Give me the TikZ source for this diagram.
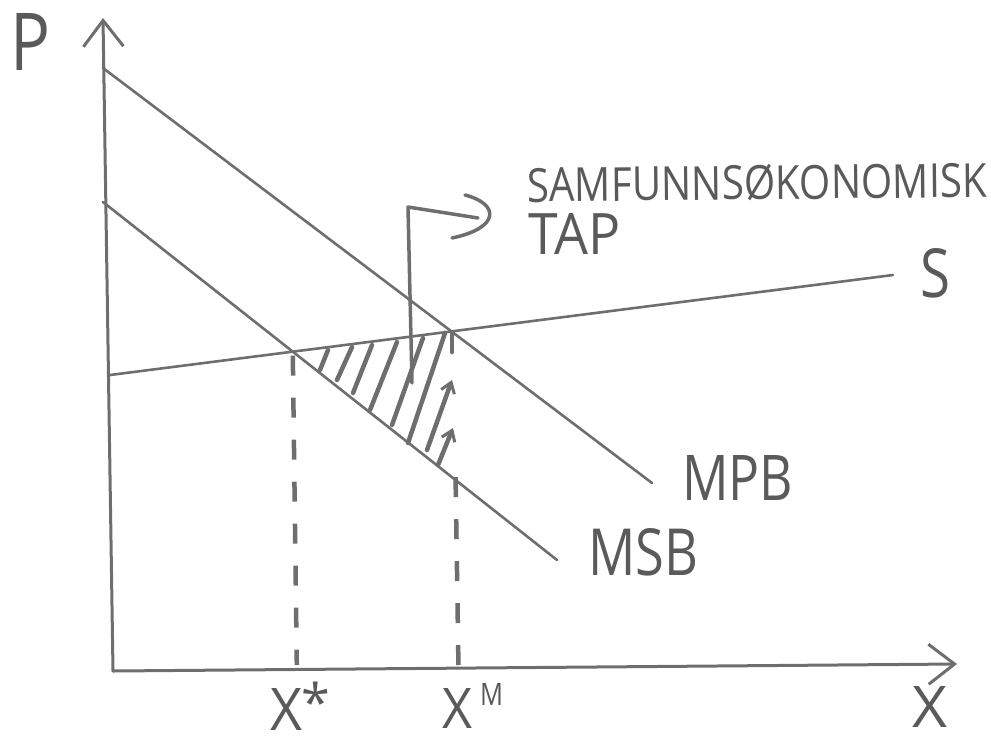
\documentclass[tikz,border=0pt]{standalone}
\usepackage{fontspec}
\setmainfont{Open Sans}
\usepackage{graphicx}
\usetikzlibrary{arrows.meta,calc}
\definecolor{pencil}{HTML}{6E6E6E}
\definecolor{ink}{HTML}{5A5A5A}
\newcommand\fitlbl[3]{\resizebox{#1pt}{#2pt}{#3}}
\begin{document}
\begin{tikzpicture}[x=1pt,y=-1pt,
  curve/.style={draw=pencil,line width=2.6pt,line cap=round},
  axis/.style={draw=pencil,line width=3pt,line cap=round,-{Straight Barb[length=26pt,width=40pt,line width=3pt]}},
  guide/.style={draw=pencil,line width=4.5pt,dash pattern=on 20pt off 22pt},
  hatch/.style={draw=pencil,line width=4.5pt,line cap=round},
  hatcharrow/.style={hatch,-{Straight Barb[length=10pt,width=14pt,line width=3pt]}},
  pointer/.style={draw=pencil,line width=3.5pt,line cap=round,line join=round},
  lbl/.style={inner sep=0pt,text=ink,anchor=base west}]
\useasboundingbox (0,0) rectangle (991,740);
% axes
\coordinate (O) at (113,671);
\coordinate (Ytip) at (103,18);
\coordinate (Xtip) at (957,664);
\draw[axis] (O) -- (Ytip);
\draw[axis] (O) -- (Xtip);
% curves
\coordinate (mpbA) at (103,68);  \coordinate (mpbB) at (652,483);
\coordinate (msbA) at (103,202); \coordinate (msbB) at (557,560);
\coordinate (sA) at (110,375);   \coordinate (sB) at (893,275);
\draw[curve] (mpbA) -- (mpbB);
\draw[curve] (msbA) -- (msbB);
\draw[curve] (sA) -- (sB);
% equilibria
\coordinate (E1) at (intersection of msbA--msbB and sA--sB);
\coordinate (E2) at (intersection of mpbA--mpbB and sA--sB);
\coordinate (E1b) at ($(E1 |- O)+(4,-6)$);
\coordinate (E2b) at ($(E2 |- O)+(7,-6)$);
\coordinate (F) at (intersection of msbA--msbB and E2--E2b);
\draw[guide] ($(E1)+(0,4)$) -- (E1b);
\draw[guide] ($(F)+(1,-2)$) -- (E2b);
% hatching
\draw[hatch] (320,370) -- (328,350);
\draw[hatch] (337,380) -- (352,347);
\draw[hatch] (353,393) -- (372,345);
\draw[hatch] (370,410) -- (397,342);
\draw[hatch] (392,425) -- (423,338);
\draw[hatch] (408,443) -- (445,333);
\draw[hatch] (452,334) -- (452,352);
\draw[hatcharrow] (427,450) -- (452,380);
\draw[hatcharrow] (438,465) -- (453,428);
% pointer
\coordinate (p1) at (412,383);
\coordinate (p2) at (408,207);
\coordinate (p3) at (478,218);
\draw[pointer] (p1) -- (p2) -- (p3);
\draw[pointer] (465,195) .. controls (500,204) and (500,228) .. (452,238);
% labels
\node[lbl] (P) at (10,70) {\fitlbl{40}{57}{P}};
\node[lbl] (xl) at (912,727) {\fitlbl{35}{41}{X}};
\node[lbl] (xs) at (270,730) {\fitlbl{32}{42}{X}};
\node[inner sep=0pt,anchor=north west,text=ink] (star) at (301,682) {\fontsize{52}{52}\selectfont *};
\node[lbl] (xm) at (442,728) {\fitlbl{30}{40}{X}};
\node[lbl] (mm) at (480,705) {\fitlbl{23}{22}{M}};
\node[lbl] (sl) at (920,297) {\fitlbl{30}{49}{S}};
\node[lbl] (mpb) at (682,500) {\fitlbl{111}{45}{MPB}};
\node[lbl] (msb) at (588,575) {\fitlbl{110}{47}{MSB}};
\node[lbl,rotate=0.6] (tap1) at (527,202) {\fitlbl{460}{35}{SAMFUNNSØKONOMISK}};
\node[lbl] (tap2) at (528,254) {\fitlbl{92}{41}{TAP}};
\end{tikzpicture}
\end{document}
